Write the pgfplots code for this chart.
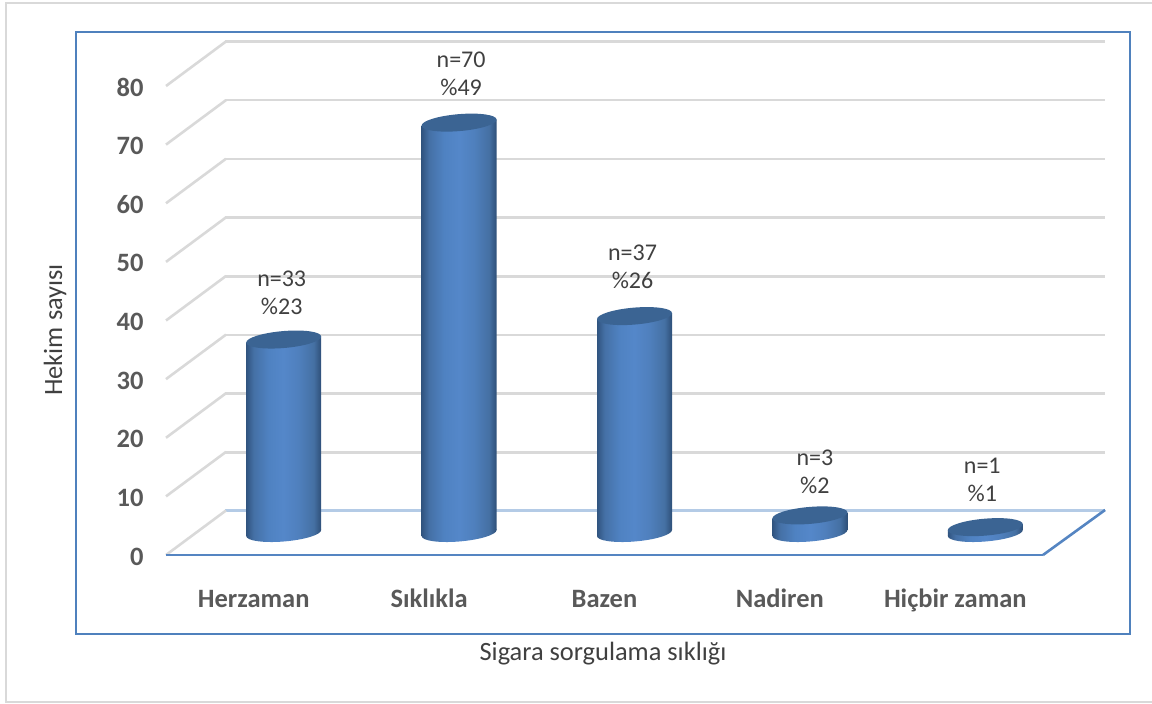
\documentclass[border=0pt]{standalone}
\usepackage{pgfplots}
\usepackage{pgfplotstable}
\pgfplotsset{compat=1.18}
\usepackage{fontspec}
\setmainfont{Carlito}

\definecolor{framecol}{HTML}{4F81BD}
\definecolor{outercol}{HTML}{D9D9D9}
\definecolor{gridcol}{HTML}{D9D9D9}
\definecolor{floorback}{HTML}{B4CBE6}
\definecolor{floorcol}{HTML}{5585C2}
\definecolor{capcol}{HTML}{3B6493}
\definecolor{ticktext}{HTML}{595959}
\definecolor{labeltext}{HTML}{404040}

% Cylinder body: dark rims, bright band a little left of centre
\pgfdeclarehorizontalshading{cylbody}{100bp}{
  rgb(0bp)=(.19,.33,.50);
  rgb(25bp)=(.19,.33,.50);
  rgb(30bp)=(.27,.44,.65);
  rgb(40bp)=(.31,.51,.76);
  rgb(50bp)=(.33,.53,.79);
  rgb(60bp)=(.31,.50,.74);
  rgb(70bp)=(.27,.44,.64);
  rgb(75bp)=(.18,.31,.47);
  rgb(100bp)=(.18,.31,.47)}

% Sheared ellipses for the caps and feet of the cylinders
\pgfdeclareplotmark{cylcap}{%
  \pgfpathellipse{\pgfpointorigin}{\pgfqpoint{37.5pt}{3pt}}{\pgfqpoint{0pt}{8.5pt}}%
  \pgfsetfillcolor{capcol}\pgfusepathqfill}
\pgfdeclareplotmark{cylfoot}{%
  \pgfpathellipse{\pgfpointorigin}{\pgfqpoint{37.5pt}{3pt}}{\pgfqpoint{0pt}{8.5pt}}%
  \pgfshadepath{cylbody}{0}\pgfusepath{discard}}

% Body of one cylinder: category index, value
\newcommand{\cylbody}[2]{%
  \pgfmathsetmacro{\xa}{#1-0.2138}%
  \pgfmathsetmacro{\xb}{#1+0.2138}%
  \pgfmathsetmacro{\ya}{#2-0.512}%
  \pgfmathsetmacro{\yb}{#2+0.512}%
  \edef\cylplot{\noexpand\addplot[forget plot,draw=none,shading=cylbody]
    coordinates {(\xa,-0.512) (\xb,0.512) (\xb,\yb) (\xa,\ya) (\xa,-0.512)};}%
  \cylplot}

% Value caption above a cylinder: index, value, x shift, y shift, first line, second line
\newcommand{\vallabel}[6]{%
  \node[font=\fontsize{24pt}{28pt}\selectfont,text=labeltext,align=center,
        xshift=#3pt,yshift=#4pt] at (axis cs:#1,#2) {#5\\#6};}

\pgfplotstableread{
x y
0 33
1 70
2 37
3 3
4 1
}\hekimdata

\begin{document}
\begin{tikzpicture}
\path[use as bounding box] (0,0) rectangle (1152pt,704pt);

% Outer and inner frames
\draw[outercol,line width=2pt] (6pt,1pt) -- (6pt,701pt) -- (1152pt,701pt);
\draw[outercol,line width=2pt] (6pt,1.5pt) -- (1152pt,1.5pt);
\draw[framecol,line width=2.6pt] (76pt,70pt) rectangle (1130pt,672pt);

% Back wall
\begin{axis}[
  at={(225pt,193pt)},anchor=south west,scale only axis,
  width=880pt,height=469.5pt,
  xmin=-0.5,xmax=4.5,ymin=0,ymax=80,
  axis line style={draw=none},tick style={draw=none},
  xtick=\empty,ytick={10,20,...,80},yticklabels={},
  ymajorgrids,major grid style={gridcol,line width=2.6pt},
  clip=false]
\addplot[forget plot,floorback,line width=3pt] coordinates {(-0.5,0) (4.5,0)};
\end{axis}

% Front plane: scales, side wall and floor outline
\begin{axis}[
  at={(166pt,149pt)},anchor=south west,scale only axis,
  width=877pt,height=469pt,
  xmin=-0.5,xmax=4.5,ymin=0,ymax=80,
  axis line style={draw=none},tick style={draw=none},
  xtick={0,1,2,3,4},
  xticklabels={Herzaman,Sıklıkla,Bazen,Nadiren,Hiçbir zaman},
  ytick={0,10,...,80},
  /pgf/number format/assume math mode=true,
  tick label style={font=\fontsize{26.5pt}{28pt}\selectfont\bfseries,text=ticktext},
  xticklabel style={anchor=base,yshift=-53pt},
  yticklabel style={anchor=east,xshift=-19pt,yshift=-1.5pt},
  xlabel={Sigara sorgulama sıklığı},
  ylabel={Hekim sayısı},
  label style={font=\fontsize{26.4pt}{28pt}\selectfont,text=labeltext},
  xlabel style={at={(axis description cs:0.4983,-0.2110)},anchor=center},
  ylabel style={at={(axis description cs:-0.1266,0.48)},anchor=center},
  clip=false]
\foreach \level/\backlevel in {0/7.59,10/17.59,20/27.59,30/37.59,40/47.59,50/57.59,60/67.59,70/77.59,80/87.59}{
  \edef\wallline{\noexpand\addplot[forget plot,gridcol,line width=2.6pt]
    coordinates {(-0.5,\level) (-0.158,\backlevel)};}
  \wallline
}
\addplot[forget plot,floorcol,line width=2.6pt] coordinates {(-0.5,0) (4.5,0)};
\addplot[forget plot,floorcol,line width=2.6pt] coordinates {(4.5,0) (4.854,7.68)};
\end{axis}

% Cylinders at mid depth
\begin{axis}[
  at={(196pt,171pt)},anchor=south west,scale only axis,
  width=877pt,height=469pt,
  xmin=-0.5,xmax=4.5,ymin=0,ymax=80,
  hide axis,clip=false]
\addplot[forget plot,only marks,mark=cylfoot] table[x=x,y expr=0] {\hekimdata};
\cylbody{0}{33}
\cylbody{1}{70}
\cylbody{2}{37}
\cylbody{3}{3}
\cylbody{4}{1}
\addplot[forget plot,only marks,mark=cylcap] table[x=x,y=y] {\hekimdata};
\vallabel{0}{33}{-2}{46.5}{n=33}{\%23}
\vallabel{1}{70}{2}{49}{n=70}{\%49}
\vallabel{2}{37}{-2}{49.5}{n=37}{\%26}
\vallabel{3}{3}{5}{44}{n=3}{\%2}
\vallabel{4}{1}{-3}{47}{n=1}{\%1}
\end{axis}
\end{tikzpicture}
\end{document}
